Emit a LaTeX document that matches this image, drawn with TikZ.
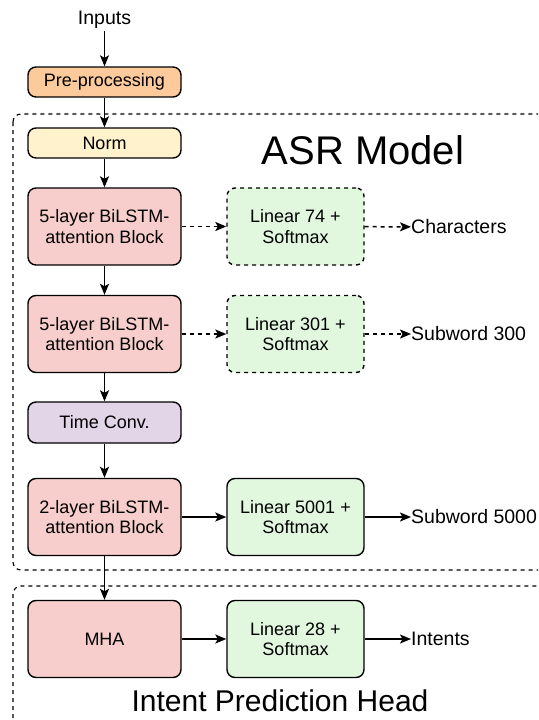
\documentclass[tikz,border=0pt]{standalone}
\usepackage{fontspec}
\setmainfont{Liberation Sans}
\usetikzlibrary{arrows.meta}
\definecolor{preC}{HTML}{FDCB9B}
\definecolor{normC}{HTML}{FFF2CC}
\definecolor{pinkC}{HTML}{F8CECC}
\definecolor{greenC}{HTML}{E1F8DF}
\definecolor{purpC}{HTML}{E1D5E7}
\tikzset{
 box/.style={draw=black, line width=1.4pt, rounded corners=8pt, align=center, font=\fontsize{18}{20.5}\selectfont, inner sep=0pt, minimum width=153pt},
 tall/.style={box, minimum height=77pt},
 short/.style={box, minimum height=30pt},
 lin/.style={box, fill=greenC, minimum width=137pt, minimum height=77pt},
 arr/.style={-{Stealth[length=11pt,width=9pt,inset=2.5pt]}, line width=1.5pt},
 lbl/.style={font=\fontsize{19.5}{22}\selectfont, inner sep=0pt, anchor=west},
 region/.style={draw=black, line width=1.1pt, dash pattern=on 4pt off 4pt, rounded corners=8pt},
 dsh/.style={dash pattern=on 4pt off 4pt}
}
\begin{document}
\begin{tikzpicture}[x=1pt,y=-1pt]
\useasboundingbox (0,0) rectangle (538,720);
\clip (0,0) rectangle (538,720);
% regions
\draw[region] (13,114) rectangle (570,570);
\draw[region] (13,586) rectangle (570,760);
\node[font=\fontsize{40}{44}\selectfont, inner sep=0pt] (asr) at (363,150) {ASR Model};
\node[font=\fontsize{30}{33}\selectfont, inner sep=0pt] (iph) at (280,701) {Intent Prediction Head};
% nodes
\node[font=\fontsize{19.5}{22}\selectfont, inner sep=2pt] (inputs) at (104.5,20) {Inputs};
\node[short, fill=preC] (pre) at (104.5,82) {Pre-processing};
\node[short, fill=normC] (norm) at (104.5,143) {Norm};
\node[tall, fill=pinkC] (b1) at (104.5,226.5) {5-layer BiLSTM-\\attention Block};
\node[lin, dsh] (l1) at (295.5,226.5) {Linear 74 +\\Softmax};
\node[lbl] (chars) at (411,227) {Characters};
\node[tall, fill=pinkC] (b2) at (104.5,334) {5-layer BiLSTM-\\attention Block};
\node[lin, dsh] (l2) at (295.5,334) {Linear 301 +\\Softmax};
\node[lbl] (s300) at (411,334) {Subword 300};
\node[box, fill=purpC, minimum height=41pt] (tc) at (104.5,422.5) {Time Conv.};
\node[tall, fill=pinkC] (b3) at (104.5,517) {2-layer BiLSTM-\\attention Block};
\node[lin] (l3) at (295.5,517) {Linear 5001 +\\Softmax};
\node[lbl] (s5000) at (411,517) {Subword 5000};
\node[tall, fill=pinkC] (mha) at (104.5,639) {MHA};
\node[lin] (l4) at (295.5,639) {Linear 28 +\\Softmax};
\node[lbl] (intents) at (411,639) {Intents};
% connectors
\draw[arr] (inputs) -- (pre);
\draw[arr] (pre) -- (norm);
\draw[arr] (norm) -- (b1);
\draw[arr, dsh] (b1) -- (l1);
\draw[arr, dsh] (l1) -- (chars);
\draw[arr] (b1) -- (b2);
\draw[arr, dsh] (b2) -- (l2);
\draw[arr, dsh] (l2) -- (s300);
\draw[arr] (b2) -- (tc);
\draw[arr] (tc) -- (b3);
\draw[arr] (b3) -- (l3);
\draw[arr] (l3) -- (s5000);
\draw[arr] (b3) -- (mha);
\draw[arr] (mha) -- (l4);
\draw[arr] (l4) -- (intents);
\end{tikzpicture}
\end{document}
